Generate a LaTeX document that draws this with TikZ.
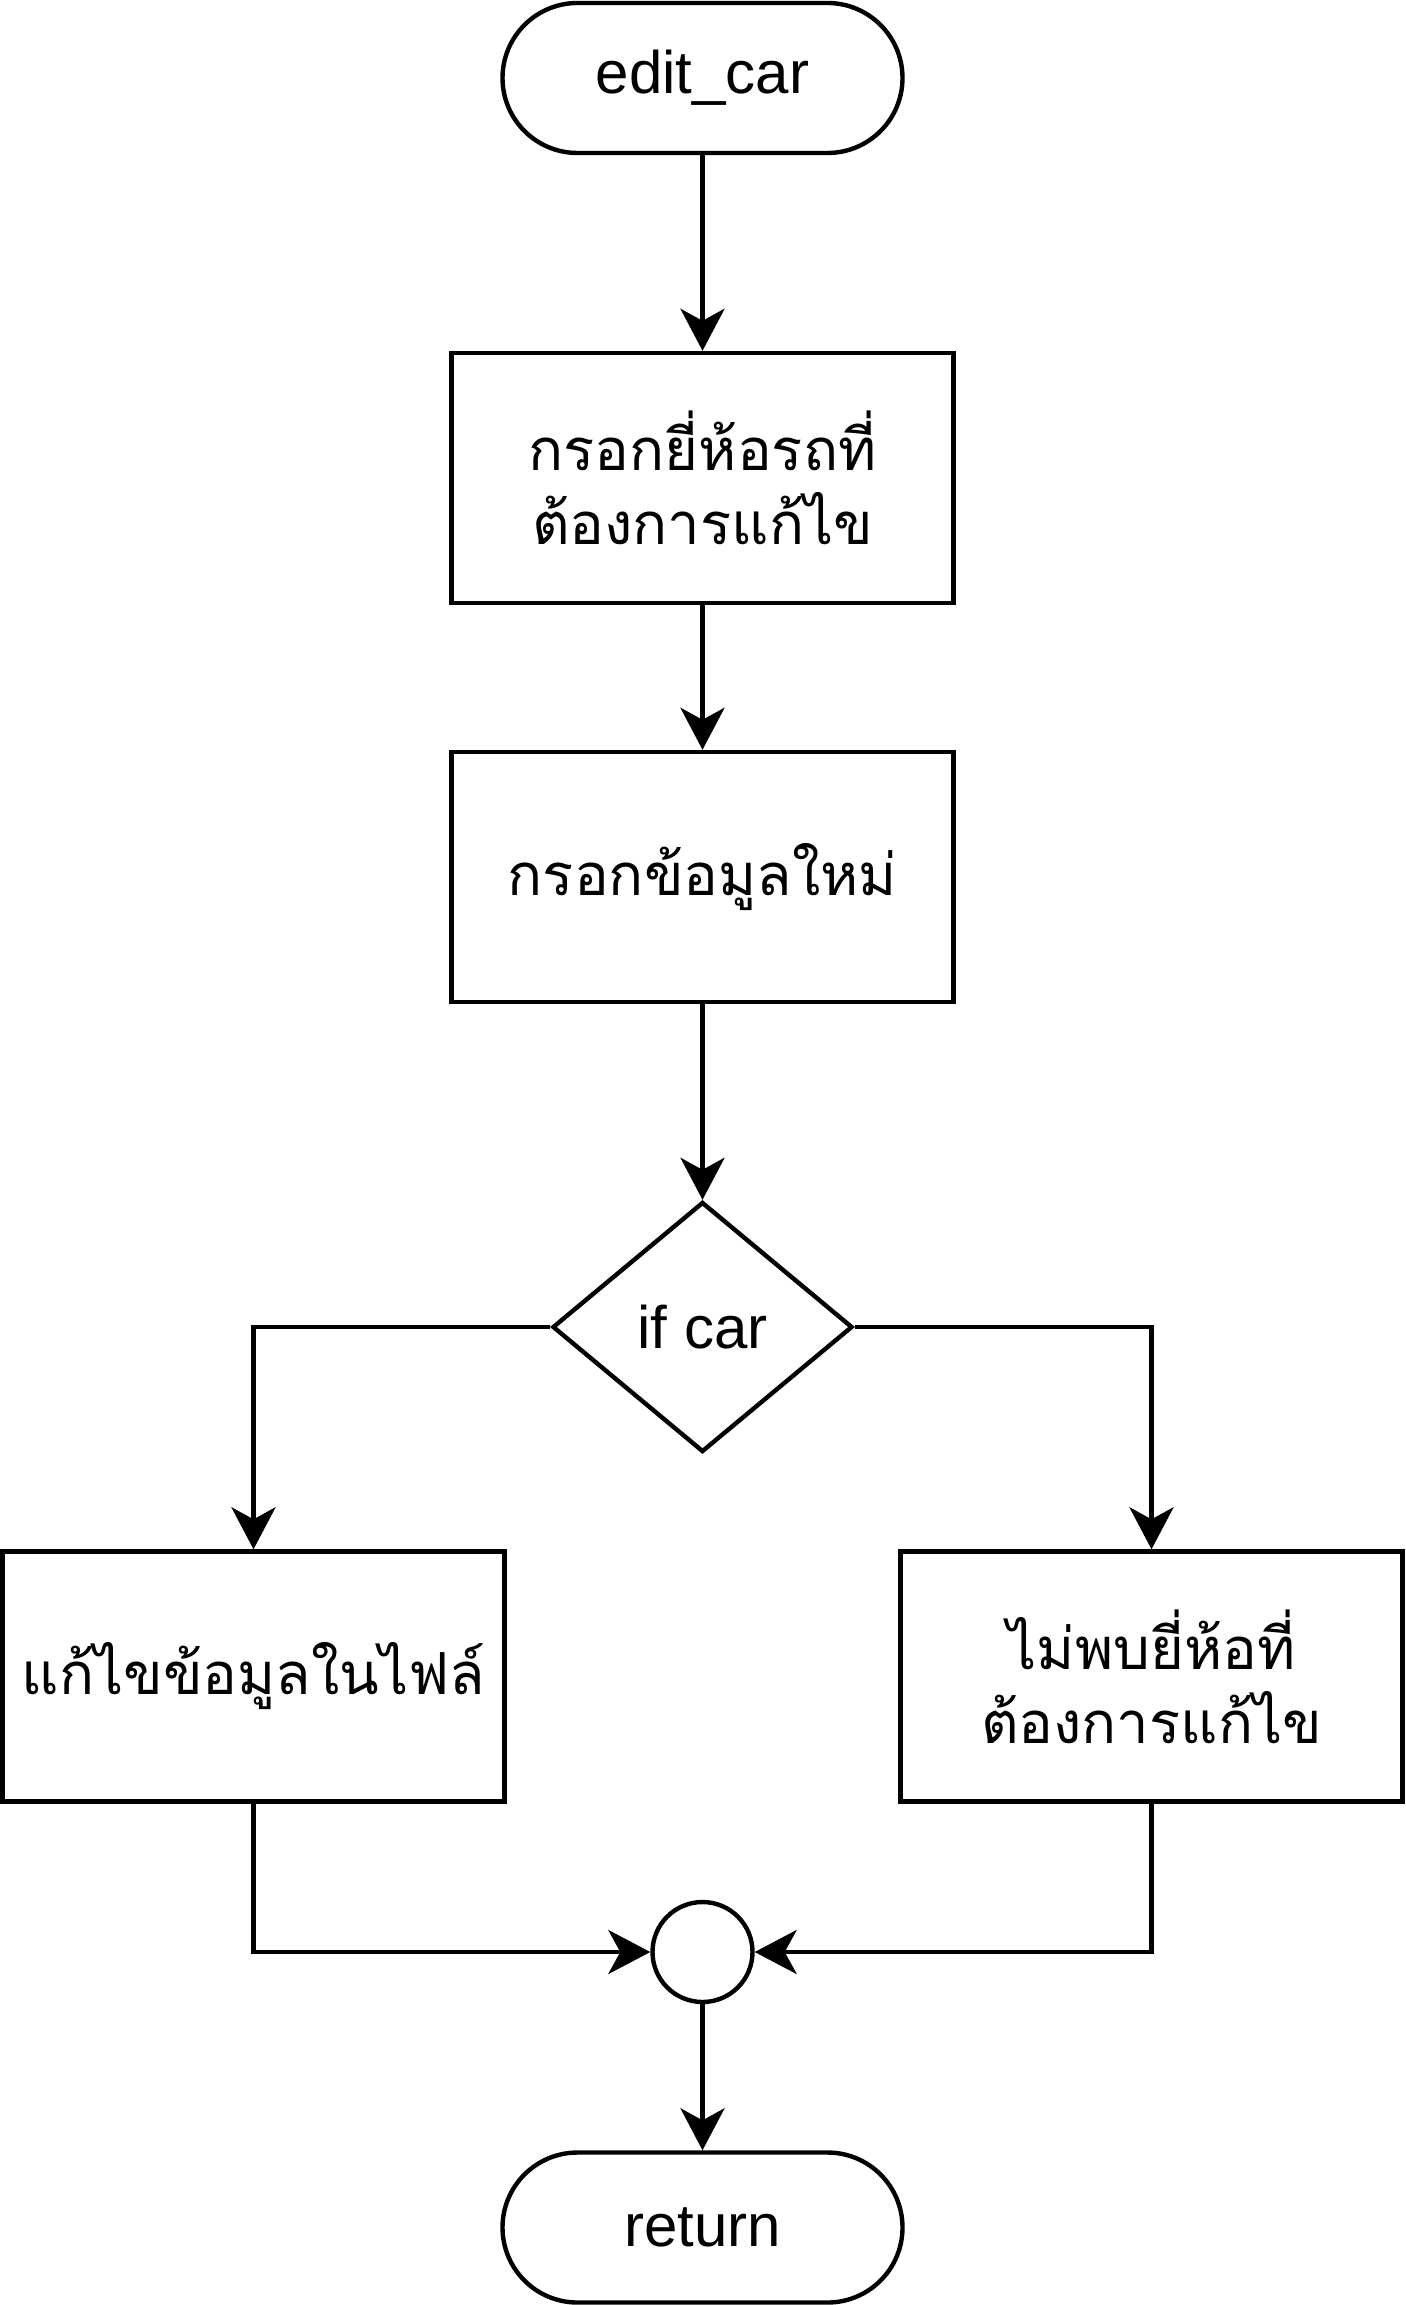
\documentclass[tikz,border=0pt]{standalone}
\usepackage{fontspec}
\setmainfont{Liberation Sans}
\newfontfamily\thaifont[Script=Thai]{Loma}
\usetikzlibrary{arrows.meta,shapes.geometric}
\tikzset{
  base/.style={draw=black, line width=2.2pt, inner sep=0pt, align=center, text=black,
    font=\fontsize{30}{36}\selectfont},
  term/.style={base, rectangle, rounded corners=37.5pt, minimum width=200pt, minimum height=75pt},
  proc/.style={base, rectangle, minimum width=251pt, minimum height=125pt,
    font=\thaifont\fontsize{29}{37}\selectfont},
  dec/.style={base, diamond, minimum width=150pt, minimum height=125pt},
  merge/.style={base, circle, minimum size=50pt},
  arr/.style={line width=2.2pt, draw=black, -{Stealth[length=21pt,width=22pt,inset=6pt]}}
}
\begin{document}
\begin{tikzpicture}[x=0.5pt,y=-0.5pt]
\fill[white] (0,0) rectangle (1405,2305);
\useasboundingbox (0,0) rectangle (1405,2305);
\node[term] (start) at (702.5,78) {edit\_car};
\node[proc] (b1) at (702.5,478) {กรอกยี่ห้อรถที่\\ต้องการแก้ไข};
\node[proc] (b2) at (702.5,877) {กรอกข้อมูลใหม่};
\node[dec] (dec) at (702.5,1327) {if car};
\node[proc] (lbox) at (253.5,1676.5) {แก้ไขข้อมูลในไฟล์};
\node[proc] (rbox) at (1151.5,1676.5) {ไม่พบยี่ห้อที่\\ต้องการแก้ไข};
\node[merge] (mrg) at (702.5,1952) {};
\node[term] (ret) at (702.5,2227.5) {return};
\draw[arr] (start) -- (b1);
\draw[arr] (b1) -- (b2);
\draw[arr] (b2) -- (dec);
\draw[arr] (dec.west) -| (lbox.north);
\draw[arr] (dec.east) -| (rbox.north);
\draw[arr] (lbox.south) |- (mrg.west);
\draw[arr] (rbox.south) |- (mrg.east);
\draw[arr] (mrg) -- (ret);
\end{tikzpicture}
\end{document}
